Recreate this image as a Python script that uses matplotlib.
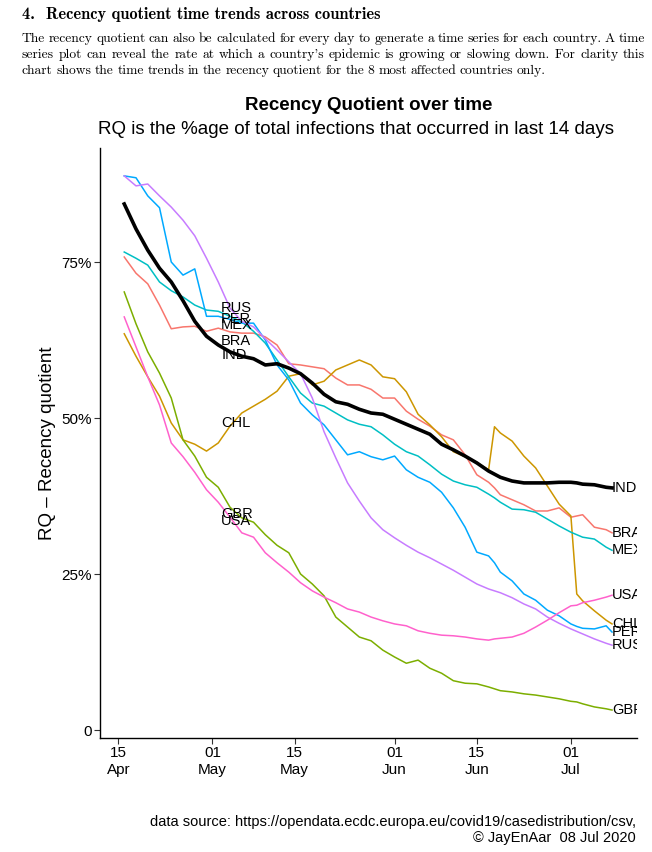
import numpy as np
import matplotlib
matplotlib.use("Agg")
import matplotlib.pyplot as plt
import matplotlib.dates as mdates

plt.rcParams['font.family'] = ['Liberation Sans', 'DejaVu Sans']

# days after 16 Apr 2020
day_offset = [0, 2, 4, 6, 8, 10, 12, 14, 16, 18, 20, 22, 24, 26, 28, 30, 32, 34, 36, 38,
              40, 42, 44, 46, 48, 50, 52, 54, 56, 58, 60, 62, 63, 64, 66, 68, 70, 72, 74, 76,
              77, 78, 80, 82, 83]

countries = ["BRA", "CHL", "GBR", "MEX", "PER", "RUS", "USA", "IND"]

rq_bra = [75.8, 73.2, 71.5, 68.1, 64.3, 64.6, 64.7, 63.9, 64.4, 63.8, 63.6, 63.6, 63.0, 61.7,
          58.7, 58.5, 58.2, 57.9, 56.4, 55.3, 55.3, 54.6, 53.2, 53.2, 51.1, 49.8, 48.7, 47.3,
          46.5, 44.1, 40.9, 39.7, 38.8, 37.7, 36.9, 36.1, 35.1, 35.1, 35.6, 34.1, 34.3, 34.5,
          32.5, 32.1, 31.6]
rq_chl = [63.5, 59.9, 56.6, 53.5, 49.2, 46.5, 45.8, 44.7, 46.0, 48.7, 50.8, 51.9, 53.0, 54.3,
          56.7, 57.1, 55.3, 55.9, 57.7, 58.5, 59.3, 58.5, 56.6, 56.3, 54.2, 50.6, 48.9, 47.0,
          44.6, 43.8, 42.9, 41.7, 48.6, 47.6, 46.3, 43.9, 42.0, 39.1, 36.2, 34.3, 21.8, 20.7,
          19.1, 17.6, 17.0]
rq_gbr = [70.2, 65.1, 60.6, 57.2, 53.2, 46.5, 43.9, 40.5, 38.9, 35.7, 34.0, 33.3, 31.3, 29.6,
          28.4, 25.0, 23.4, 21.5, 18.1, 16.5, 14.9, 14.3, 12.8, 11.7, 10.7, 11.2, 9.9, 9.1,
          7.9, 7.5, 7.4, 6.9, 6.6, 6.3, 6.1, 5.8, 5.6, 5.3, 5.0, 4.6, 4.5, 4.2, 3.7, 3.4, 3.2]
rq_mex = [76.6, 75.6, 74.5, 71.8, 70.4, 69.4, 68.1, 67.3, 67.1, 66.3, 65.4, 63.9, 62.0, 59.3,
          56.6, 54.0, 52.4, 51.9, 50.8, 49.7, 49.0, 48.6, 47.3, 45.8, 44.6, 43.9, 42.5, 41.0,
          39.9, 39.3, 38.9, 37.8, 37.2, 36.5, 35.4, 35.3, 34.9, 33.8, 32.7, 31.7, 31.3, 30.9,
          30.6, 29.3, 28.8]
rq_per = [88.8, 88.5, 85.6, 83.7, 75.0, 72.9, 73.9, 66.3, 66.3, 65.8, 65.2, 65.2, 62.5, 58.5,
          56.1, 52.4, 50.5, 48.9, 46.5, 44.1, 44.6, 43.8, 43.3, 43.9, 41.7, 40.5, 39.7, 38.1,
          35.6, 32.5, 28.5, 27.9, 26.8, 25.3, 23.9, 21.8, 20.8, 19.2, 18.3, 17.0, 16.6, 16.3,
          16.2, 16.7, 15.7]
rq_rus = [88.8, 87.2, 87.5, 85.6, 83.8, 81.7, 79.2, 75.6, 71.8, 67.6, 65.5, 64.6, 62.7, 60.9,
          59.0, 57.1, 53.2, 47.8, 43.6, 39.6, 36.7, 34.0, 32.1, 30.8, 29.6, 28.5, 27.6, 26.6,
          25.6, 24.5, 23.4, 22.6, 22.3, 22.0, 21.2, 20.2, 19.4, 18.1, 17.1, 16.2, 15.8, 15.4,
          14.6, 13.9, 13.6]
rq_usa = [66.2, 61.4, 56.6, 52.1, 46.0, 43.8, 41.3, 38.5, 36.5, 34.1, 31.6, 30.9, 28.4, 26.8,
          25.3, 23.6, 22.3, 21.3, 20.4, 19.4, 18.9, 18.1, 17.5, 17.0, 16.7, 15.9, 15.5, 15.2,
          15.1, 14.9, 14.6, 14.4, 14.6, 14.7, 14.9, 15.5, 16.5, 17.6, 18.8, 19.9, 20.0, 20.4,
          20.8, 21.3, 21.6]
rq_ind = [84.3, 80.3, 76.9, 74.0, 71.8, 68.8, 65.5, 63.1, 61.7, 60.6, 59.9, 59.5, 58.5, 58.7,
          58.0, 57.1, 55.6, 53.8, 52.6, 52.2, 51.4, 50.8, 50.6, 49.8, 49.0, 48.2, 47.4, 45.8,
          44.9, 43.9, 42.8, 41.5, 41.0, 40.5, 39.9, 39.6, 39.6, 39.6, 39.7, 39.7, 39.6, 39.4,
          39.3, 38.9, 38.8]

# country labels in the middle of the chart (y of each label, in %)
mid_label_y = [62.3, 49.2, 34.6, 64.9, 65.9, 67.6, 33.5, 60.1]

series = [rq_bra, rq_chl, rq_gbr, rq_mex, rq_per, rq_rus, rq_usa, rq_ind]
colours = ["#F8766D", "#CD9600", "#7CAE00", "#00BFC4", "#00A9FF", "#C77CFF", "#FF61CC", "black"]

start = np.datetime64("2020-04-16")
dates = start + np.array(day_offset).astype("timedelta64[D]")
mid_label_x = start + np.timedelta64(396, "h")

fig = plt.figure(figsize=(6.52, 8.52), dpi=100)
W, H = 652.0, 852.0
ax = fig.add_axes([100 / W, 1 - 738 / H, 537 / W, 590 / H])

for name, vals, col in zip(countries, series, colours):
    lw = 2.6 if name == "IND" else 1.1
    ax.plot(dates, vals, color=col, lw=lw, solid_joinstyle="round")
for name, vals, ly in zip(countries, series, mid_label_y):
    ax.text(mid_label_x, ly, name, ha="left", va="center", fontsize=10.5, color="black")
    ax.text(dates[-1], vals[-1], name, ha="left", va="center", fontsize=10.5,
            color="black", clip_on=True)

ax.set_xlim(start - np.timedelta64(99, "h"), start + np.timedelta64(2094, "h"))
ax.set_ylim(-1.28, 93.27)
ax.set_yticks([0, 25, 50, 75])
ax.set_yticklabels(["0", "25%", "50%", "75%"])
ticks = [np.datetime64(d) for d in ["2020-04-15", "2020-05-01", "2020-05-15",
                                     "2020-06-01", "2020-06-15", "2020-07-01"]]
ax.set_xticks(ticks)
ax.xaxis.set_major_formatter(mdates.DateFormatter("%d\n%b"))
ax.tick_params(labelsize=11, length=4, color="#333333", labelcolor="black")
ax.tick_params(axis="x", pad=2)
ax.tick_params(axis="y", pad=2)
for s in ["top", "right"]:
    ax.spines[s].set_visible(False)
for s in ["left", "bottom"]:
    ax.spines[s].set_linewidth(1.0)
ax.set_ylabel("RQ \u2013 Recency quotient", fontsize=13.5, labelpad=4)

cx = (100 + 537 / 2) / W
fig.text(cx, 1 - 105 / H, "Recency Quotient over time", ha="center", va="center",
         fontsize=13.5, fontweight="bold")
fig.text(356 / W, 1 - 130 / H, "RQ is the %age of total infections that occurred in last 14 days",
         ha="center", va="center", fontsize=13.5)
fig.text(636 / W, 1 - 822 / H, "data source: https://opendata.ecdc.europa.eu/covid19/casedistribution/csv,",
         ha="right", va="center", fontsize=10.5)
fig.text(636 / W, 1 - 838 / H, "\u00a9 JayEnAar  08 Jul 2020", ha="right", va="center", fontsize=10.5)

# header in LaTeX style
fig.text(22 / W, 1 - 15 / H, "4.  Recency quotient time trends across countries",
         ha="left", va="center", fontsize=11.8, family=["cmb10", "DejaVu Serif"])

para = ["The recency quotient can also be calculated for every day to generate a time series for each country. A time",
        "series plot can reveal the rate at which a country's epidemic is growing or slowing down. For clarity this",
        "chart shows the time trends in the recency quotient for the 8 most affected countries only."]
para_y = [39, 55, 71]
renderer = fig.canvas.get_renderer()
for i, (line, yy) in enumerate(zip(para, para_y)):
    words = line.split()
    txts = [fig.text(0, 1 - yy / H, w, ha="left", va="center", fontsize=9.75,
                     family=["cmr10", "DejaVu Serif"]) for w in words]
    widths = [t.get_window_extent(renderer).width for t in txts]
    if i < len(para) - 1:
        gap = (645 - 22 - sum(widths)) / (len(words) - 1)
    else:
        gap = 3.6
    x = 22.0
    for t, wd in zip(txts, widths):
        t.set_x(x / W)
        x += wd + gap

fig.savefig("out.png", dpi=100)
